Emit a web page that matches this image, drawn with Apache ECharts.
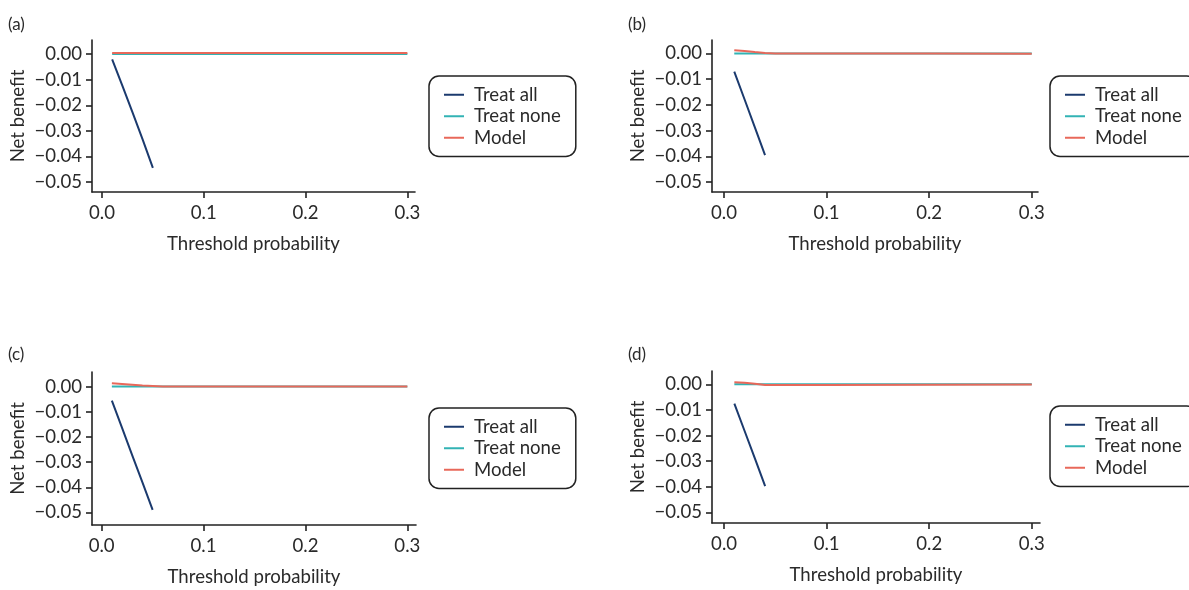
<!DOCTYPE html>
<html>
<head>
<meta charset="utf-8">
<script src="https://cdn.jsdelivr.net/npm/echarts@6/dist/echarts.min.js"></script>
<style>
html,body{margin:0;padding:0;background:#fff;}
#chart{width:1189px;height:590px;}
</style>
</head>
<body>
<div id="chart"></div>
<script>
// ---- data ----
const panelLabels = ['(a)', '(b)', '(c)', '(d)'];
const seriesNames = ['Treat all', 'Treat none', 'Model'];
const xTicks = [0, 0.1, 0.2, 0.3];
const yTicks = [0, -0.01, -0.02, -0.03, -0.04, -0.05];

const allX_A = [0.01, 0.02, 0.03, 0.04, 0.05];
const allY_A = [-0.0021, -0.0123, -0.0228, -0.0334, -0.0445];
const allX_B = [0.01, 0.02, 0.03, 0.04];
const allY_B = [-0.0071, -0.0178, -0.0286, -0.0395];
const allX_C = [0.01, 0.02, 0.03, 0.04, 0.05];
const allY_C = [-0.0056, -0.0164, -0.0273, -0.0381, -0.0490];
const allX_D = [0.01, 0.02, 0.03, 0.04];
const allY_D = [-0.0075, -0.0182, -0.0289, -0.0397];

const thresholds = [0.01, 0.02, 0.03, 0.04, 0.05, 0.06, 0.1, 0.2, 0.3];
const noneY = [0, 0, 0, 0, 0, 0, 0, 0, 0];
const modelY_A = [0.0004, 0.0004, 0.0004, 0.0004, 0.0004, 0.0004, 0.0004, 0.0004, 0.0004];
const modelY_B = [0.0012, 0.0009, 0.0005, 0.0002, 0.0000, 0.0000, 0.0000, 0.0000, -0.0001];
const modelY_C = [0.0013, 0.0010, 0.0007, 0.0004, 0.0002, 0.0000, 0.0000, 0.0000, 0.0000];
const modelY_D = [0.0008, 0.0006, 0.0002, -0.0003, -0.0003, -0.0003, -0.0003, -0.0002, -0.0001];

const xMin = [-0.0098, -0.0117, -0.0095, -0.0118];
const xMax = [0.3075, 0.3061, 0.3085, 0.3080];
const yMin = [-0.0539, -0.0538, -0.0550, -0.0541];
const yMax = [0.0055, 0.0052, 0.0058, 0.0052];

// ---- build ----
const allXs = [allX_A, allX_B, allX_C, allX_D];
const allYs = [allY_A, allY_B, allY_C, allY_D];
const modelYs = [modelY_A, modelY_B, modelY_C, modelY_D];

const colors = ['#1b3a6e', '#32b3b4', '#e8685a'];
const FONT = 'Lato';
const TXT = '#2a2a2a';
const FS = 18.6;

const grids = [
  {left: 92, top: 40, width: 323, height: 152},
  {left: 712, top: 40, width: 326, height: 152},
  {left: 92, top: 372, width: 324, height: 153},
  {left: 712, top: 371, width: 328, height: 152}
];
const legendPos = [
  {left: 429, top: 76},
  {left: 1050, top: 76},
  {left: 429, top: 408},
  {left: 1050, top: 406}
];
const labelPos = [
  {x: 8, y: 16}, {x: 628, y: 16}, {x: 8, y: 346}, {x: 628, y: 346}
];

const pair = (xs, ys) => xs.map((x, i) => [x, ys[i]]);

const xAxes = [], yAxes = [], series = [], legends = [], titles = [];
const axisLineStyle = {color: '#222', width: 1.6};
for (let p = 0; p < 4; p++) {
  xAxes.push({
    type: 'value', gridIndex: p, min: xMin[p], max: xMax[p],
    name: 'Threshold probability', nameLocation: 'middle', nameGap: 42,
    nameTextStyle: {fontFamily: FONT, fontSize: FS, color: TXT},
    axisLine: {show: true, onZero: false, lineStyle: axisLineStyle},
    axisTick: {show: true, length: 6, lineStyle: axisLineStyle, customValues: xTicks},
    axisLabel: {fontFamily: FONT, fontSize: FS, color: TXT, margin: 11, customValues: xTicks,
      formatter: v => v.toFixed(1)},
    splitLine: {show: false}
  });
  yAxes.push({
    type: 'value', gridIndex: p, min: yMin[p], max: yMax[p],
    name: 'Net benefit', nameLocation: 'middle', nameGap: 65,
    nameTextStyle: {fontFamily: FONT, fontSize: FS, color: TXT},
    axisLine: {show: true, onZero: false, lineStyle: axisLineStyle},
    axisTick: {show: true, length: 6, lineStyle: axisLineStyle, customValues: yTicks},
    axisLabel: {fontFamily: FONT, fontSize: FS, color: TXT, margin: 10, customValues: yTicks,
      formatter: v => (v < -1e-9 ? '\u2212' : '') + Math.abs(v).toFixed(2)},
    splitLine: {show: false}
  });
  const lineCommon = {type: 'line', xAxisIndex: p, yAxisIndex: p, symbol: 'none', silent: true};
  series.push(Object.assign({}, lineCommon, {name: seriesNames[0], data: pair(allXs[p], allYs[p]),
    lineStyle: {color: colors[0], width: 2}, itemStyle: {color: colors[0]}}));
  series.push(Object.assign({}, lineCommon, {name: seriesNames[1], data: pair(thresholds, noneY),
    lineStyle: {color: colors[1], width: 2}, itemStyle: {color: colors[1]}}));
  series.push(Object.assign({}, lineCommon, {name: seriesNames[2], data: pair(thresholds, modelYs[p]),
    lineStyle: {color: colors[2], width: 2}, itemStyle: {color: colors[2]}}));
  legends.push({
    data: seriesNames, orient: 'vertical', left: legendPos[p].left, top: legendPos[p].top,
    icon: 'rect', itemWidth: 20, itemHeight: 2, itemGap: 0,
    padding: [8, 15, 8, 15], borderColor: '#222', borderWidth: 1.5, borderRadius: 10,
    backgroundColor: '#fff', selectedMode: false,
    textStyle: {fontFamily: FONT, fontSize: FS, color: TXT, lineHeight: 21.5, padding: [0, 0, 0, 5]}
  });
  titles.push({text: panelLabels[p], left: labelPos[p].x, top: labelPos[p].y, padding: 0,
    textStyle: {fontSize: 17, fontWeight: 'normal', fontFamily: FONT, color: TXT}});
}

const chart = echarts.init(document.getElementById('chart'), null, {renderer: 'canvas'});
chart.setOption({
  animation: false,
  backgroundColor: '#fff',
  title: titles,
  grid: grids,
  xAxis: xAxes,
  yAxis: yAxes,
  legend: legends,
  series: series
});
</script>
</body>
</html>
